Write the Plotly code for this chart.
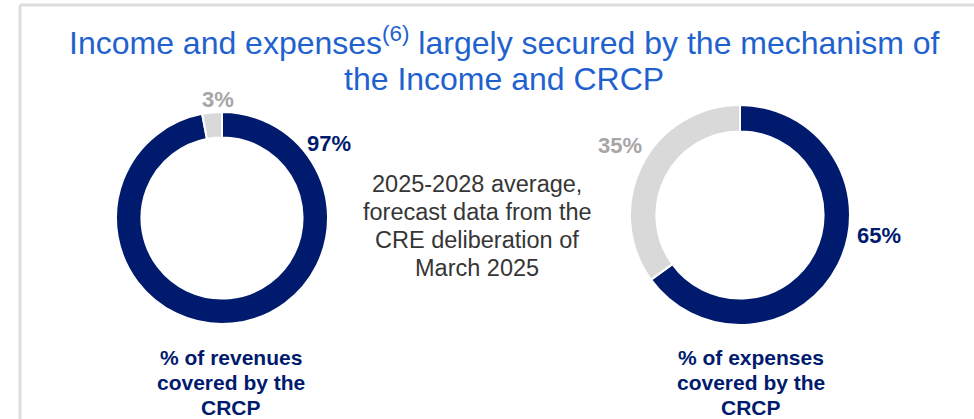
import plotly.graph_objects as go

# Data
categories = ["Covered by the CRCP", "Not covered"]
revenues_share = [97, 3]
expenses_share = [65, 35]
bottom_labels = [
    ["% of revenues", "covered by the", "CRCP"],
    ["% of expenses", "covered by the", "CRCP"],
]
center_note = ["2025-2028 average,", "forecast data from the", "CRE deliberation of", "March 2025"]
title_lines = [
    "Income and expenses<sup>(6)</sup> largely secured by the mechanism of",
    "the Income and CRCP",
]

W, H = 974, 419
NAVY = "#001B6E"
LIGHT = "#D9D9D9"
GREY_TXT = "#A6A6A6"
TITLE_BLUE = "#1F62CF"
FONT = "Liberation Sans, Arial, sans-serif"


def px(x):
    return x / W


def py(y):
    return 1 - y / H


def donut(values, cx, cy, r):
    return go.Pie(
        labels=categories,
        values=values,
        sort=False,
        direction="clockwise",
        rotation=0,
        hole=0.76,
        marker=dict(colors=[NAVY, LIGHT], line=dict(color="white", width=2)),
        textinfo="none",
        hoverinfo="label+percent",
        showlegend=False,
        domain=dict(x=[px(cx - r), px(cx + r)], y=[py(cy + r), py(cy - r)]),
    )


fig = go.Figure()
fig.add_trace(donut(revenues_share, 222, 218, 106))
fig.add_trace(donut(expenses_share, 740, 215, 110))

annotations = []


def note(text, x, y, size, color, bold=False):
    annotations.append(dict(
        text=f"<b>{text}</b>" if bold else text,
        x=px(x), y=py(y), xref="paper", yref="paper",
        xanchor="center", yanchor="middle", showarrow=False,
        font=dict(family=FONT, size=size, color=color),
        align="center",
    ))


def stacked(lines, x, y0, step, size, color, bold=False):
    for i, line in enumerate(lines):
        note(line, x, y0 + i * step, size, color, bold)


# Slice value labels
note(f"{revenues_share[0]}%", 329, 143, 22, NAVY, bold=True)
note(f"{revenues_share[1]}%", 218, 100, 22, GREY_TXT, bold=True)
note(f"{expenses_share[0]}%", 879, 235, 22, NAVY, bold=True)
note(f"{expenses_share[1]}%", 620, 145, 22, GREY_TXT, bold=True)

# Captions under each donut
stacked(bottom_labels[0], 231, 357, 25, 21, NAVY, bold=True)
stacked(bottom_labels[1], 751, 357, 25, 21, NAVY, bold=True)

# Central explanatory note
stacked(center_note, 477, 184, 28, 23.5, "#363636")

# Title
stacked(title_lines, 504, 41, 38, 32, TITLE_BLUE)

fig.update_layout(
    width=W,
    height=H,
    margin=dict(l=0, r=0, t=0, b=0),
    paper_bgcolor="white",
    plot_bgcolor="white",
    annotations=annotations,
    shapes=[
        dict(type="line", xref="paper", yref="paper", x0=px(20), x1=1, y0=py(5), y1=py(5),
             line=dict(color="#DDDDDD", width=3)),
        dict(type="line", xref="paper", yref="paper", x0=px(20), x1=px(20), y0=py(5), y1=0,
             line=dict(color="#DDDDDD", width=3)),
    ],
)

fig.write_html("out.html")
